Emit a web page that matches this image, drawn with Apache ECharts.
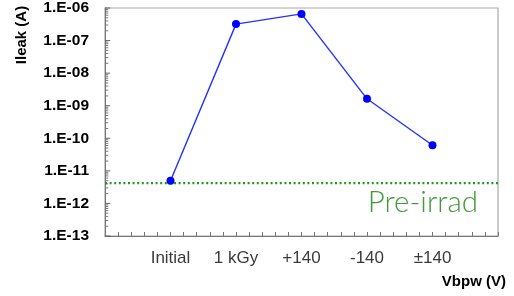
<!DOCTYPE html>
<html><head><meta charset="utf-8">
<script src="https://cdn.jsdelivr.net/npm/echarts@6/dist/echarts.min.js"></script>
<style>html,body{margin:0;padding:0;background:#fff}#c{width:514px;height:296px}</style>
</head><body><div id="c"></div>
<script>
const categories = ['Initial', '1 kGy', '+140', '-140', '±140'];
const categoryPositions = [1, 2, 3, 4, 5];
const ileak = [5.0e-12, 3.2e-7, 6.6e-7, 1.63e-9, 6.1e-11];
const preIrradLevel = 4.2e-12;
const xRange = [0, 6];
const decadeExponents = [-13, -12, -11, -10, -9, -8, -7, -6];
const minorMantissas = [2, 3, 4, 5, 6, 7, 8, 9];
const majorTickLen = 0.08;   // in x-axis units
const minorTickLen = 0.05;

const lineData = categoryPositions.map((x, i) => [x, ileak[i]]);
const preIrradData = xRange.map(x => [x, preIrradLevel]);

function tickSegments(values, len) {
  const out = [];
  values.forEach(v => { out.push([xRange[0], v]); out.push([xRange[0] + len, v]); out.push([xRange[0] + len, '-']); });
  return out;
}
const majorTickValues = decadeExponents.map(e => Math.pow(10, e));
const minorTickValues = [];
decadeExponents.slice(0, -1).forEach(e => minorMantissas.forEach(m => minorTickValues.push(m * Math.pow(10, e))));

const FONT = '"Liberation Sans", Arial, Helvetica, sans-serif';
const chart = echarts.init(document.getElementById('c'), null, {renderer: 'canvas'});
chart.setOption({
  animation: false,
  backgroundColor: '#fff',
  grid: {left: 105, right: 16, top: 5, bottom: 60, show: true, borderColor: '#a8a8a8', borderWidth: 1.2, backgroundColor: 'transparent'},
  xAxis: {
    type: 'value', min: xRange[0], max: xRange[1], interval: 1,
    axisLine: {show: true, lineStyle: {color: '#777', width: 1}},
    axisTick: {show: true, inside: true, length: 4, lineStyle: {color: '#777'}},
    minorTick: {show: true, splitNumber: 5, length: 4, lineStyle: {color: '#777'}},
    splitLine: {show: false},
    axisLabel: {
      margin: 14, fontFamily: FONT, fontSize: 17, color: '#3a3a3a',
      formatter: v => (v >= 1 && v <= categories.length && Number.isInteger(v)) ? categories[v - 1] : ''
    }
  },
  yAxis: {
    type: 'log', logBase: 10, min: 1e-13, max: 1e-6, splitNumber: 7,
    axisLine: {show: true, lineStyle: {color: '#777', width: 1}},
    axisTick: {show: false},
    splitLine: {show: false},
    axisLabel: {
      margin: 16, fontFamily: FONT, fontSize: 15.5, fontWeight: 'bold', color: '#000',
      formatter: v => {
        const e = Math.round(Math.log10(v));
        const a = Math.abs(e);
        return '1.E' + (e < 0 ? '-' : '+') + (a < 10 ? '0' + a : '' + a);
      }
    }
  },
  series: [
    {
      type: 'line', data: tickSegments(majorTickValues, majorTickLen), z: 1, silent: true,
      symbol: 'none', connectNulls: false, clip: false,
      lineStyle: {color: '#666', width: 1}
    },
    {
      type: 'line', data: tickSegments(minorTickValues, minorTickLen), z: 1, silent: true,
      symbol: 'none', connectNulls: false, clip: false,
      lineStyle: {color: '#777', width: 1}
    },
    {
      type: 'line', data: preIrradData, z: 2, silent: true,
      symbol: 'none',
      lineStyle: {color: '#1f9a1f', type: [2, 2.6], width: 2.2}
    },
    {
      type: 'line', data: lineData, z: 3,
      symbol: 'circle', symbolSize: 8,
      lineStyle: {color: '#2233ff', width: 1.4},
      itemStyle: {color: '#0000ff'}
    }
  ],
  graphic: [
    {type: 'text', x: 22, y: 35, rotation: Math.PI / 2,
     style: {text: 'Ileak (A)', font: 'bold 15px ' + FONT, fill: '#000', align: 'center', verticalAlign: 'middle'}},
    {type: 'text', x: 506, y: 282,
     style: {text: 'Vbpw (V)', font: 'bold 15px ' + FONT, fill: '#000', align: 'right', verticalAlign: 'middle'}},
    {type: 'text', x: 478, y: 202,
     style: {text: 'Pre-irrad', font: '300 29.5px Lato, "Open Sans", ' + FONT, fill: '#3f9a3a', align: 'right', verticalAlign: 'middle'}}
  ]
});
</script></body></html>
